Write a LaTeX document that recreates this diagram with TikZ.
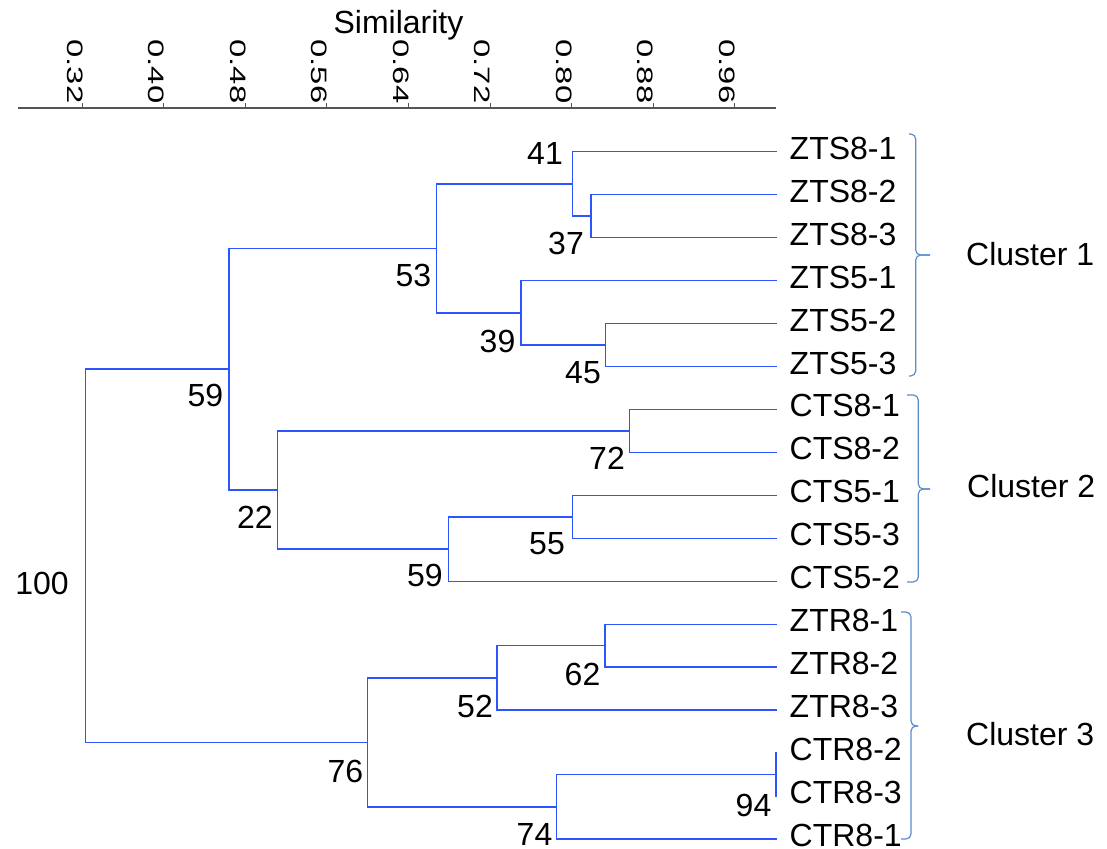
\documentclass[tikz,border=0pt]{standalone}
\usepackage{fontspec}
\setmainfont{Liberation Sans}
\usetikzlibrary{calc}

\definecolor{branchblue}{RGB}{45,85,255}
\definecolor{bracketblue}{RGB}{90,140,205}
\definecolor{axisgray}{RGB}{85,85,85}

% join two children (#1,#2) into cluster #3 whose split sits at x = #4
\newcommand\dendjoin[4]{%
  \coordinate (#3-m) at ($(#1)!0.5!(#2)$);
  \coordinate (#3) at (#3-m -| #4,0);
  \draw[branch] (#1) -- (#1 -| #3) -- (#2 -| #3) -- (#2);
}

\begin{document}
\begin{tikzpicture}[x=1bp,y=-1bp,
  branch/.style={draw=branchblue,line width=1.5bp,line cap=rect},
  bracket/.style={draw=bracketblue,line width=1.2bp,rounded corners=5bp},
  leaflabel/.style={anchor=base west,inner sep=0pt,font=\fontsize{32bp}{36bp}\selectfont},
  boot/.style={inner sep=0pt,font=\fontsize{32bp}{36bp}\selectfont},
  clusterlabel/.style={anchor=base west,inner sep=0pt,font=\fontsize{32bp}{36bp}\selectfont},
  ticklabel/.style={rotate=-90,anchor=north east,inner sep=0pt,font=\fontsize{22.3bp}{26bp}\selectfont},
]
\useasboundingbox (0,0) rectangle (1107,849);

% similarity axis
\draw[axisgray,line width=1.3bp] (18,108) coordinate (axL) -- (776,108) coordinate (axR);
\foreach \v [count=\k from 0] in {0.32,0.40,0.48,0.56,0.64,0.72,0.80,0.88,0.96} {
  \coordinate (tk\k) at ({82.3+81.55*\k},108);
  \draw[axisgray,line width=1bp] (tk\k) -- ++(0,-5);
  \node[ticklabel] (tl\k) at ({82.8+81.55*\k},103.5) {\scalebox{1.47}[1]{\v}};
}
\node[anchor=base,inner sep=0pt,font=\fontsize{32bp}{36bp}\selectfont] (axtitle) at (398.5,33.3) {Similarity};

% leaves
\foreach \nm/\txt [count=\i from 0] in {zts81/ZTS8-1,zts82/ZTS8-2,zts83/ZTS8-3,zts51/ZTS5-1,zts52/ZTS5-2,zts53/ZTS5-3,cts81/CTS8-1,cts82/CTS8-2,cts51/CTS5-1,cts53/CTS5-3,cts52/CTS5-2,ztr81/ZTR8-1,ztr82/ZTR8-2,ztr83/ZTR8-3,ctr82/CTR8-2,ctr83/CTR8-3,ctr81/CTR8-1} {
  \coordinate (\nm) at (776,{151.7+42.96*\i});
  \node[leaflabel] (\nm-t) at (789.5,{159.2+42.96*\i}) {\txt};
}

% tree
\dendjoin{zts82}{zts83}{n37}{591}
\dendjoin{zts81}{n37}{n41}{572.7}
\dendjoin{zts52}{zts53}{n45}{605.3}
\dendjoin{zts51}{n45}{n39}{521}
\dendjoin{n41}{n39}{n53}{436.7}
\dendjoin{cts81}{cts82}{n72}{629.3}
\dendjoin{cts51}{cts53}{n55}{572.3}
\dendjoin{n55}{cts52}{n59b}{448.7}
\dendjoin{n72}{n59b}{n22}{277.7}
\dendjoin{n53}{n22}{n59a}{229}
\dendjoin{ztr81}{ztr82}{n62}{605}
\dendjoin{n62}{ztr83}{n52}{497}
\dendjoin{ctr82}{ctr83}{n94}{776}
\dendjoin{n94}{ctr81}{n74}{556.7}
\dendjoin{n52}{n74}{n76}{367.7}
\dendjoin{n59a}{n76}{n100}{85.7}

% bootstrap values
\node[boot] (b41) at (545,153.5) {41};
\node[boot] (b37) at (566,243.5) {37};
\node[boot] (b53) at (413.5,275) {53};
\node[boot] (b39) at (497.5,341.5) {39};
\node[boot] (b45) at (583,373) {45};
\node[boot] (b59a) at (205.5,395) {59};
\node[boot] (b22) at (255,517.5) {22};
\node[boot] (b100) at (42,583.5) {100};
\node[boot] (b72) at (607,458.5) {72};
\node[boot] (b55) at (547,543.5) {55};
\node[boot] (b59b) at (425,575.5) {59};
\node[boot] (b62) at (582.5,674) {62};
\node[boot] (b52) at (475,706.5) {52};
\node[boot] (b76) at (345.5,771) {76};
\node[boot] (b74) at (534.5,834.5) {74};
\node[boot] (b94) at (753.5,805) {94};

% cluster brackets
\coordinate (c1tip) at (930,255);
\draw[bracket] (909,134) -- (915.7,134) -- (915.7,255) -- (c1tip);
\draw[bracket] (909,376) -- (915.7,376) -- (915.7,255) -- (c1tip);
\coordinate (c2tip) at (930,489);
\draw[bracket] (907,395) -- (918.3,395) -- (918.3,489) -- (c2tip);
\draw[bracket] (907,582) -- (918.3,582) -- (918.3,489) -- (c2tip);
\coordinate (c3tip) at (918,726);
\draw[bracket] (901,612) -- (911,612) -- (911,726) -- (c3tip);
\draw[bracket] (901,839) -- (911,839) -- (911,726) -- (c3tip);

\node[clusterlabel] (cl1) at (966,265) {Cluster 1};
\node[clusterlabel] (cl2) at (967,497) {Cluster 2};
\node[clusterlabel] (cl3) at (966,745) {Cluster 3};
\end{tikzpicture}
\end{document}
